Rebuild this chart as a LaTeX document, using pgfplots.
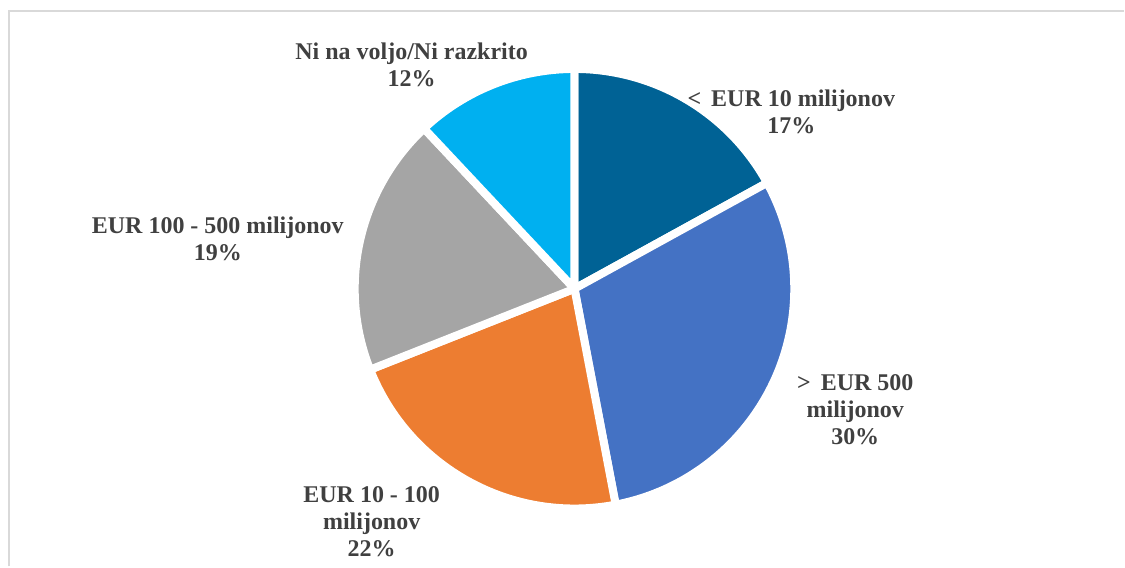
\documentclass[border=0pt]{standalone}
\usepackage{pgfplots}
\pgfplotsset{compat=1.18}
\usepackage{fontspec}
\setmainfont{Liberation Serif}

\definecolor{cA}{HTML}{006295}
\definecolor{cB}{HTML}{4472C4}
\definecolor{cC}{HTML}{ED7D31}
\definecolor{cD}{HTML}{A5A5A5}
\definecolor{cE}{HTML}{00B0F0}
\definecolor{txt}{HTML}{404040}

% shares in %, clockwise from 12 o'clock
\def\pA{17}\def\pB{30}\def\pC{22}\def\pD{19}\def\pE{12}
\def\R{110pt}

\newcommand{\pieslice}[3]{% colour, start share, share
  \fill[#1, draw=white, line width=4pt, line join=round]
    (axis cs:575,278) -- ++({90-3.6*(#2)}:\R)
    arc[start angle={90-3.6*(#2)}, end angle={90-3.6*(#2+#3)}, radius=\R] -- cycle;}

\begin{document}
\begin{tikzpicture}
\begin{axis}[
    hide axis,
    x=0.5pt, y=0.5pt,
    xmin=0, xmax=1125, ymin=0, ymax=567,
    clip=false,
    ]
    \addplot[draw=none] coordinates {(0,0) (1125,567)};
    \draw[black!15, line width=1pt] (axis cs:9,0) -- (axis cs:9,556) -- (axis cs:1125,556);
    \pieslice{cA}{0}{\pA}
    \pieslice{cB}{\pA}{\pB}
    \pieslice{cC}{\pA+\pB}{\pC}
    \pieslice{cD}{\pA+\pB+\pC}{\pD}
    \pieslice{cE}{\pA+\pB+\pC+\pD}{\pE}
    \begin{scope}[every node/.style={font=\fontsize{12}{13.5}\selectfont\bfseries, text=txt, align=center, inner sep=0pt}]
    \node at (axis cs:792,455) {<\, EUR 10 milijonov\\\pA\%};
    \node at (axis cs:856,157) {>\, EUR 500\\milijonov\\\pB\%};
    \node at (axis cs:372,45) {EUR 10 - 100\\milijonov\\\pC\%};
    \node at (axis cs:218,328) {EUR 100 - 500 milijonov\\\pD\%};
    \node at (axis cs:412,502) {Ni na voljo/Ni razkrito\\\pE\%};
    \end{scope}
\end{axis}
\end{tikzpicture}
\end{document}
